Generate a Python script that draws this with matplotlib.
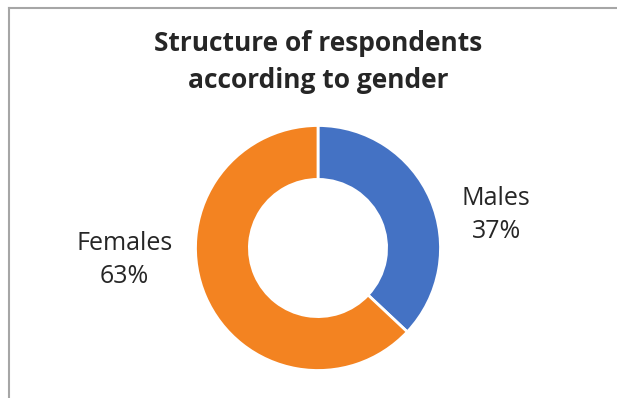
import matplotlib
matplotlib.use('agg')
import matplotlib.pyplot as plt
from matplotlib.lines import Line2D

# gender split of respondents
categories = ['Males', 'Females']
shares = [37, 63]
colors = ['#4472C4', '#F38321']

fig_w, fig_h = 617, 398
fig = plt.figure(figsize=(fig_w / 100, fig_h / 100), dpi=100)
fig.patch.set_facecolor('white')

# chart frame (top and left edges only visible)
fig.add_artist(Line2D([9 / fig_w, 1], [1 - 8 / fig_h, 1 - 8 / fig_h], color='#A6A6A6', lw=1.5))
fig.add_artist(Line2D([9 / fig_w, 9 / fig_w], [0, 1 - 8 / fig_h], color='#A6A6A6', lw=1.5))

###DONUT###
cx, cy, r = 318, 248, 122.5
ax = fig.add_axes([(cx - r) / fig_w, (fig_h - cy - r) / fig_h, 2 * r / fig_w, 2 * r / fig_h])
ax.pie(shares, colors=colors, startangle=90, counterclock=False, radius=1,
       wedgeprops=dict(width=0.44, edgecolor='white', linewidth=2))
ax.set_xlim(-1, 1)
ax.set_ylim(-1, 1)

label_pos = {'Males': (1.455, 0.27), 'Females': (-1.58, -0.10)}
for name, val in zip(categories, shares):
    x, y = label_pos[name]
    ax.text(x, y, '{}\n{}%'.format(name, val), ha='center', va='center',
            fontsize=18, color='#262626', family='Open Sans', linespacing=1.4,
            clip_on=False)

fig.text(cx / fig_w, 1 - 62 / fig_h, 'Structure of respondents\naccording to gender',
         ha='center', va='center', fontsize=19, fontweight='bold',
         family='Open Sans', color='#262626', linespacing=1.45)

plt.savefig('out.png', dpi=100)
